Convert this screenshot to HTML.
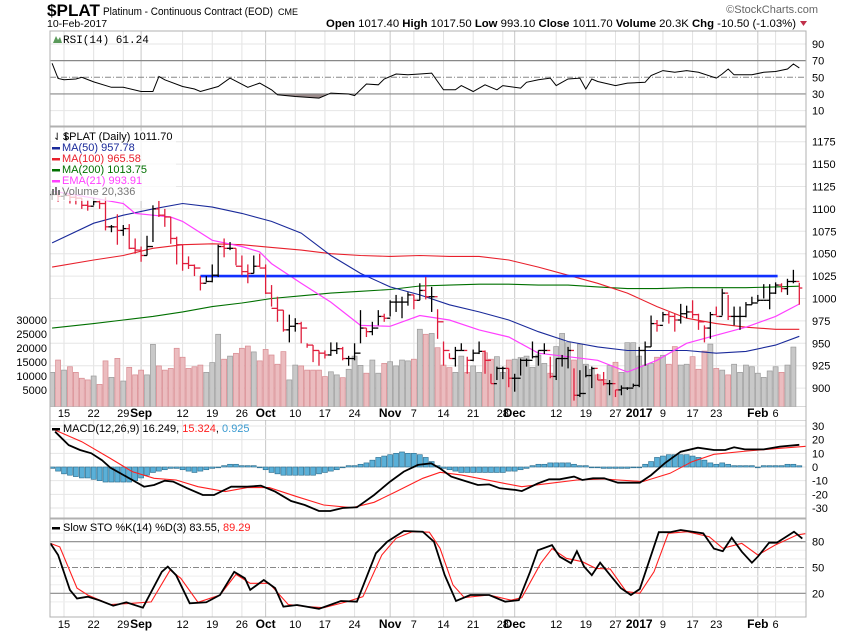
<!DOCTYPE html>
<html><head><meta charset="utf-8"><style>
body{margin:0;background:#fff;}
svg{display:block;font-family:"Liberation Sans",sans-serif;}
</style></head><body>
<svg id="chart" width="850" height="633" viewBox="0 0 850 633" xmlns="http://www.w3.org/2000/svg">
<rect width="850" height="633" fill="#fff"/>
<text x="47" y="16" font-size="17" font-weight="bold" textLength="53" lengthAdjust="spacingAndGlyphs">$PLAT</text>
<text x="103" y="15" font-size="11" textLength="170" lengthAdjust="spacingAndGlyphs">Platinum - Continuous Contract (EOD)</text>
<text x="278" y="15" font-size="9">CME</text>
<text x="47" y="27" font-size="10.5">10-Feb-2017</text>
<text x="818" y="13" font-size="11" fill="#666" text-anchor="end">©StockCharts.com</text>
<text x="796" y="27" font-size="11" text-anchor="end" textLength="470" lengthAdjust="spacingAndGlyphs"><tspan font-weight="bold">Open</tspan> 1017.40 <tspan font-weight="bold">High</tspan> 1017.50 <tspan font-weight="bold">Low</tspan> 993.10 <tspan font-weight="bold">Close</tspan> 1011.70 <tspan font-weight="bold">Volume</tspan> 20.3K <tspan font-weight="bold">Chg</tspan> -10.50 (-1.03%)</text>
<polygon points="800,21 807,21 803.5,26" fill="#c0304a"/>
<g id="layers"></g>
</svg>
<script>
// ---- data ----
const closes=[1116,1114,1115,1113,1112,1104,1103,1108,1106,1080,1080,1076,1078,1056,1054,1048,1058,1100,1093,1091,1067,1060,1039,1037,1034,1017,1019,1026,1058,1056,1056,1036,1030,1028,1036,1034,1006,989,987,965,969,972,967,948,942,939,937,942,944,933,933,939,967,963,967,980,978,996,996,996,1004,998,1009,1002,1002,974,942,933,942,942,931,939,941,931,905,922,922,911,911,931,931,935,942,942,913,933,933,942,892,894,914,922,909,905,905,898,900,900,903,942,946,972,970,982,980,976,983,985,982,974,967,982,980,1006,980,980,980,993,995,998,998,1006,1015,1011,1019,1019,1011.7];
const highs=[1120,1118,1118,1116,1115,1112,1110,1112,1110,1113,1082,1094,1082,1083,1067,1058,1070,1104,1109,1100,1091,1069,1060,1047,1038,1025,1025,1038,1060,1067,1063,1056,1048,1038,1048,1050,1038,1015,1002,987,982,978,974,950,948,942,942,951,951,946,936,950,987,967,974,987,983,998,1004,1002,1007,1004,1017,1024,1013,988,952,939,946,950,935,943,952,942,916,924,924,922,916,933,933,952,942,950,935,933,937,946,922,920,925,924,916,918,909,898,903,901,905,946,952,981,976,985,985,983,994,992,998,983,970,985,991,1011,1004,991,991,996,1002,1004,1016,1016,1018,1017,1022,1032,1017.5];
const lows=[1110,1108,1110,1106,1105,1100,1098,1104,1100,1076,1074,1060,1070,1055,1050,1041,1048,1063,1091,1080,1061,1038,1031,1033,1025,1009,1018,1018,1024,1046,1054,1037,1026,1017,1028,1035,1005,991,974,963,951,963,950,945,929,925,933,936,938,931,925,931,950,957,959,970,974,980,985,978,992,988,998,999,985,955,925,933,924,942,916,930,938,916,905,909,910,901,896,914,924,933,925,938,911,909,924,922,886,890,912,900,909,903,892,890,892,898,901,901,925,946,963,974,972,963,972,978,978,965,951,955,981,981,976,970,965,979,993,996,1000,988,1005,1007,1004,1017,993.1];
const volumes=[11300,15700,12100,13300,11300,9200,8600,10000,7000,15400,9500,16300,8200,13100,10400,12100,10400,21300,13600,12100,12700,19900,16700,12700,13300,13900,11300,14800,24900,16000,17100,18100,19900,20700,18600,15400,19500,17500,14200,18700,8600,13900,13600,12100,12100,12100,9800,11500,10400,9400,12400,17100,13800,11000,15700,11000,14500,15100,13600,15700,15400,16000,26700,24900,25200,20100,13900,13000,11300,17100,11300,13600,11300,18300,16000,16900,11300,15700,16000,16600,17100,13100,17500,14500,11000,20500,25200,21900,15700,21400,14200,12400,10400,8800,13700,14900,11300,21900,21900,17100,13900,14500,16700,17400,14200,20500,13900,14200,16900,12400,18900,21400,12700,12100,10400,14200,11300,13900,13300,11000,9500,11800,13300,11300,13900,20336];
const maIdx=[-2,5,10,15,20,25,30,35,40,45,50,55,60,65,70,75,80,85,90,95,100,105,110,115,120,124];
const ma50=[1062,1084,1093,1100,1106,1102,1095,1086,1073,1048,1028,1013,1004,993,985,976,963,952,946,942,942,942,939,941,948,957.78];
const ma100=[1035,1043,1048,1056,1060,1061,1060,1057,1054,1050,1048,1047,1048,1047,1047,1043,1035,1026,1017,1006,991,978,972,968,965.6,965.58];
const ma200=[967,972,976,980,985,991,995,1000,1003,1006,1008,1010,1014,1015,1016,1016,1015,1015,1013,1011,1011,1012,1012,1012,1013,1013.75];
const emaIdx=[-2,5,10,12,15,18,20,25,30,33,35,40,45,50,55,60,65,70,75,80,85,90,95,100,105,110,115,120,124];
const ema21=[1120,1112,1106,1095,1093,1091,1086,1065,1058,1052,1039,1017,996,970,969,981,976,965,957,939,935,931,918,931,950,959,968,980,993.91];
const resistance=1025, resStart=23, resEnd=120;
const rsiIdx=[-2,-1,0,2,3,5,8,10,13,15,16,17,20,22,23,26,28,31,33,35,36,39,43,45,48,49,51,53,54,56,58,60,62,63,64,66,67,69,71,73,74,77,78,80,82,83,85,87,88,89,90,93,95,98,99,101,103,105,107,110,111,112,113,116,118,120,122,123,124];
const rsiVals=[66.8,48.6,47,48,50,44.5,38,38,33,33,51,47,39,36,33,39,49,38,43,35,29,27,25,31,30,28,42,41,48,54,53,54,55,45,35,35,40,33,41,35,40,37,44,47,49,40,48,49,36,48,45,40,43,44,52,58,56,58,56,49,54,60,53,53,56,57,60,66,61.24];
const macdIdx=[-1.5,0.8,2.7,4.6,6.4,7.8,10.5,13.5,15.2,17,18.4,20.7,23.4,25.3,28.2,30.9,33.2,35.6,38.3,40.6,43,44.9,47,49.4,52.3,55,57.3,59.7,61.9,63.4,65.3,67.1,69.8,71.7,73.5,76.2,77.2,79.9,81.8,83.6,86,87.4,89.2,91.1,93.4,97.1,99,101.3,104,106.9,109.6,111.5,113,114.8,118,120.7,124];
const macdVals=[25.8,16,12.4,10,5,-0.5,-7,-14.4,-13.2,-10,-10.7,-15.4,-20.5,-20.5,-14.4,-14.4,-13.7,-18,-24.9,-27.8,-32.2,-32.2,-30,-29.5,-20.5,-10.7,-3.4,1.5,2.7,-1,-7,-9.5,-13.2,-12.7,-15.6,-16.8,-17.6,-12,-9,-9,-7,-9.5,-8.3,-8.3,-11.5,-11.5,-5.9,2.7,11.2,14.1,12.4,12.4,14.4,12.9,12.9,14.9,16.25];
const sigIdx=[-1.5,3,7.8,11.5,15.2,18.9,22.6,27.2,30.9,34.6,39.3,43.8,48.6,52.3,56,60.5,63.4,67.1,72.7,77.2,81.8,86.5,91.1,97.6,102.2,105.9,109.6,115.2,120.7,125.5];
const sigVals=[27,18.5,6.3,-3.4,-8.3,-9.5,-14.4,-18,-15.1,-15.1,-21.7,-27.8,-29.8,-25.8,-18,-8.3,-3.9,-5.9,-10.7,-14.4,-12,-9.5,-8.8,-10.7,-4.6,3.9,9.3,11.7,13.7,15.32];
const histVals=[-1,-3,-5,-6,-7,-8,-8,-9,-10,-11,-11,-11,-11,-11,-10,-8,-6,-4,-3,-2,-1,-1,-2,-3,-4,-3,-2,-1,0,1,2,2,1,1,1,0,-2,-4,-5,-6,-6,-6,-6,-6,-6,-5,-4,-3,-2,0,1,1,2,3,5,7,8,9,10,11,10,10,9,7,4,1,-1,-2,-3,-4,-4,-4,-4,-4,-4,-4,-4,-3,-3,-2,-1,1,2,2,3,3,3,3,2,1,1,0,0,-1,-1,-1,-1,-1,0,0,2,4,7,8,9,9,9,9,8,7,5,3,2,3,2,1,1,1,1,0,1,1,1,1,2,2,0.925];
const kIdx=[-2.3,-1,1,2.2,4,5.9,8.3,10.5,13.3,16.5,17.5,18.9,21.2,24,26.3,28.7,30.5,31.4,33.7,35.6,37,39.3,43,46.7,49.4,52.6,54.5,57.3,60.5,62.4,64.2,66.1,68.5,71.7,74.4,76.7,78.6,79.9,82.3,83.6,85.5,86.5,87.7,89,90.4,92.1,93.9,95.6,97.1,100.3,102.2,104,107.8,109.6,111.1,112.6,114.3,116,117,118.9,120.2,123.1,124.5];
const kVals=[78,64.5,24,14,16,12,5.6,9.5,3.3,45,51,41,8.4,9.5,18,45,37.4,24,35.5,26,4.4,6.4,2,11,10.2,66.5,80,92.4,91.6,80,41.3,11,18,18,10.2,12,45,70,76,62.6,55,69,51,41,55.6,41,26,18,25,91,91,93.6,89.8,72,69,84.7,68.4,55.6,62.6,78.8,78.8,91.6,83.55];
const dIdx=[-2.3,-0.7,2.2,4,7.8,11.5,14.7,17.9,19.7,22.6,26.3,29,31.4,34.6,37.8,41.1,43.8,47.6,50.4,53.6,56,58.7,61.6,63.4,65.6,67.5,71.7,75.4,77.2,80.4,82.3,84.7,87.4,89.7,92.1,94.8,97.1,99.5,101.9,105.1,108.8,111.1,114.3,117,119.9,123.6,125];
const dVals=[78,74,26,18,7,8.4,10,47,37.4,9.5,18,42,31.6,31.6,7,4.4,3.3,10,16,64.5,84,91.6,91,72.3,29.6,15,18,12,15,55,72,60.7,56.8,49,48.3,22,20,45,89.8,91.6,85.8,72.3,78,64.5,76,87.8,89.29];
const xLabels=["15","22","29","Sep","12","19","26","Oct","10","17","24","Nov","7","14","21","28","Dec","12","19","27","2017","9","17","23","Feb","6"];
const xLabelIdx=[0,5,10,13,20,25,30,34,39,44,49,55,59,64,69,74,76,83,88,93,97,101,106,110,117,120];
const xBold=["Sep","Oct","Nov","Dec","2017","Feb"];
const priceTicks=[900,925,950,975,1000,1025,1050,1075,1100,1125,1150,1175];
const volTicks=[5000,10000,15000,20000,25000,30000];
const rsiTicks=[90,70,50,30,10];
const macdTicks=[30,20,10,0,-10,-20,-30];
const stoTicks=[80,50,20];

// ---- scales ----
const L=50,R=806;
const X=i=>64+i*5.93;
const yP=p=>141.7+(1175-p)*0.896;
const yV=v=>404-v*0.0028;
const yR=v=>77.3-(v-50)*0.833;
const yM=v=>467-v*1.367;
const yS=v=>541.7-(v-80)*0.86;
const NS="http://www.w3.org/2000/svg";
const root=document.getElementById('layers');
function mk(tag,attrs,parent){const e=document.createElementNS(NS,tag);for(const k in attrs)e.setAttribute(k,attrs[k]);(parent||root).appendChild(e);return e;}
function pts(idx,vals,ys){return idx.map((i,k)=>X(i).toFixed(1)+','+ys(vals[k]).toFixed(1)).join(' ');}

const panels=[{n:'rsi',t:31,b:126},{n:'price',t:127,b:407},{n:'macd',t:420,b:518},{n:'sto',t:519,b:617}];
const defs=mk('defs',{});
panels.forEach(p=>{const c=mk('clipPath',{id:'clip-'+p.n},defs);mk('rect',{x:L,y:p.t,width:R-L,height:p.b-p.t},c);});

panels.forEach(p=>{
  const g=mk('g',{'clip-path':'url(#clip-'+p.n+')'});
  
  
  xLabelIdx.forEach((i,k)=>{mk('line',{x1:X(i),x2:X(i),y1:p.t,y2:p.b,stroke:xBold.includes(xLabels[k])?'#c8c8c8':'#e2e2e2','stroke-width':1},g);});
});
const hg=mk('g',{});


priceTicks.forEach(v=>mk('line',{x1:L,x2:R,y1:yP(v),y2:yP(v),stroke:'#e6e6e6'},hg));
[90,10].forEach(v=>mk('line',{x1:L,x2:R,y1:yR(v),y2:yR(v),stroke:'#e6e6e6'},hg));
[30,20,10,0,-10,-20,-30].forEach(v=>mk('line',{x1:L,x2:R,y1:yM(v),y2:yM(v),stroke:'#e6e6e6'},hg));
[90,70,60,40,30,10].forEach(v=>mk('line',{x1:L,x2:R,y1:yS(v),y2:yS(v),stroke:'#eeeeee'},hg));

// ---- RSI ----
const rg=mk('g',{'clip-path':'url(#clip-rsi)'});


const below=mk('clipPath',{id:'clip-below30'},defs);
mk('rect',{x:L,y:yR(30),width:R-L,height:50},below);
const fillPts=X(rsiIdx[0])+','+yR(30)+' '+pts(rsiIdx,rsiVals,yR)+' '+X(rsiIdx[rsiIdx.length-1])+','+yR(30);
const rf=mk('polygon',{points:fillPts,fill:'#9c8c8c','clip-path':'url(#clip-below30)'},rg);


mk('line',{x1:L,x2:R,y1:yR(70),y2:yR(70),stroke:'#888','stroke-width':1.2},rg);
mk('line',{x1:L,x2:R,y1:yR(30),y2:yR(30),stroke:'#888','stroke-width':1.2},rg);
mk('line',{x1:L,x2:R,y1:yR(50),y2:yR(50),stroke:'#888','stroke-dasharray':'6,2,1,2'},rg);
const rl=mk('polyline',{points:pts(rsiIdx,rsiVals,yR),fill:'none',stroke:'#000','stroke-width':1},rg);



// ---- Price panel ----
const pg=mk('g',{'clip-path':'url(#clip-price)'});


volumes.forEach((v,k)=>{const i=k-2;const up=k===0||closes[k]>=closes[k-1];
  const b=mk('rect',{x:X(i)-2.5,y:yV(v),width:5,height:407-yV(v),fill:up?'#c8c8c8':'#ebbcbf',stroke:up?'#9a9a9a':'#d88a90','stroke-width':0.7},pg);
  
  });
function line(idx,vals,col,w,name){const e=mk('polyline',{points:pts(idx,vals,yP),fill:'none',stroke:col,'stroke-width':w},pg);
  
  }
line(maIdx,ma200,'#007000',1.1,'ma200-line');
line(maIdx,ma100,'#e8202c',1.1,'ma100-line');
line(maIdx,ma50,'#1a2a9a',1.1,'ma50-line');
line(emaIdx,ema21,'#ff40ff',1.2,'ema21-line');
const rs=mk('line',{x1:X(resStart),x2:X(resEnd)+2,y1:yP(resistance),y2:yP(resistance),stroke:'#1030ff','stroke-width':2.6},pg);


closes.forEach((c,k)=>{const i=k-2;const o=k>0?closes[k-1]:c;const up=k===0||c>=closes[k-1];const col=up?'#000':'#e01e3c';const x=X(i);
  const g=mk('g',{stroke:col,'stroke-width':1.3},pg);
  
  
  mk('line',{x1:x,x2:x,y1:yP(highs[k]),y2:yP(lows[k])},g);
  mk('line',{x1:x-3,x2:x,y1:yP(o),y2:yP(o)},g);
  mk('line',{x1:x,x2:x+3,y1:yP(c),y2:yP(c)},g);});

// ---- MACD ----
const mg=mk('g',{'clip-path':'url(#clip-macd)'});


histVals.forEach((v,k)=>{const i=k-2;const y0=yM(0),y1=yM(v);
  const b=mk('rect',{x:X(i)-2.5,y:Math.min(y0,y1),width:5,height:Math.max(0.8,Math.abs(y1-y0)),fill:'#5ab0d8',stroke:'#2a6a8a','stroke-width':0.6},mg);
  
  });
const sl=mk('polyline',{points:pts(sigIdx,sigVals,yM),fill:'none',stroke:'#ff2020','stroke-width':1.1},mg);


const ml=mk('polyline',{points:pts(macdIdx,macdVals,yM),fill:'none',stroke:'#000','stroke-width':1.8},mg);



// ---- Stochastics ----
const sg=mk('g',{'clip-path':'url(#clip-sto)'});


mk('line',{x1:L,x2:R,y1:yS(80),y2:yS(80),stroke:'#888','stroke-width':1.2},sg);
mk('line',{x1:L,x2:R,y1:yS(20),y2:yS(20),stroke:'#888','stroke-width':1.2},sg);
mk('line',{x1:L,x2:R,y1:yS(50),y2:yS(50),stroke:'#888','stroke-dasharray':'6,2,1,2'},sg);
const dl=mk('polyline',{points:pts(dIdx,dVals,yS),fill:'none',stroke:'#ff2020','stroke-width':1.1},sg);


const kl=mk('polyline',{points:pts(kIdx,kVals,yS),fill:'none',stroke:'#000','stroke-width':1.8},sg);



panels.forEach(p=>{const f=mk('rect',{x:L,y:p.t,width:R-L,height:p.b-p.t,fill:'none',stroke:'#b0b0b0'});
  
  });
mk('rect',{x:L,y:407,width:R-L,height:13,fill:'#fff'});
mk('line',{x1:L,x2:L,y1:407,y2:420,stroke:'#b0b0b0'});
mk('line',{x1:R,x2:R,y1:407,y2:420,stroke:'#b0b0b0'});

// ---- axes labels ----
function txt(x,y,s,opt){const t=mk('text',Object.assign({x:x,y:y,'font-size':11},opt||{}));t.textContent=s;return t;}
[417,628].forEach(yy=>{xLabels.forEach((s,k)=>{const b=xBold.includes(s);const t=txt(X(xLabelIdx[k]),yy,s,{'text-anchor':'middle','font-weight':b?'bold':'normal','font-size':b?12:11});
  
  });});
priceTicks.forEach(v=>{const t=txt(812,yP(v)+4,String(v));
  
  });
volTicks.forEach(v=>{const t=txt(47,yV(v)+4,String(v),{'text-anchor':'end'});
  
  });
rsiTicks.forEach(v=>{const t=txt(812,yR(v)+4,String(v));
  
  });
macdTicks.forEach(v=>{const t=txt(812,yM(v)+4,String(v));
  
  });
stoTicks.forEach(v=>{const t=txt(812,yS(v)+4,String(v));
  
  });

// ---- legends ----
const lg=mk('g',{'font-size':11});


mk('polygon',{points:'53,43 56,36 58,40 60,37 62,43',fill:'#5a9a5a'},lg);
txt(63,43,'RSI(14) 61.24',{'font-family':'Liberation Mono, monospace'});
mk('rect',{x:51,y:131,width:125,height:70,fill:'#fff','fill-opacity':0.75},lg);
txt(63,140,'$PLAT (Daily) 1011.70');
txt(53,140,'⇃⇂',{'font-size':10});
const leg=[['MA(50) 957.78','#1a2a9a'],['MA(100) 965.58','#e8202c'],['MA(200) 1013.75','#007000'],['EMA(21) 993.91','#ff40ff'],['Volume 20,336','#777']];
leg.forEach((l,k)=>{const y=151+k*11;
  if(k<4)mk('rect',{x:52,y:y-4,width:8,height:2.5,fill:l[1]},lg);else{mk('rect',{x:52,y:y-6,width:2,height:6,fill:'#777'},lg);mk('rect',{x:55,y:y-8,width:2,height:8,fill:'#777'},lg);mk('rect',{x:58,y:y-5,width:2,height:5,fill:'#777'},lg);}
  const t=txt(62,y,l[0],{fill:l[1]});
  
  });
mk('rect',{x:52,y:428,width:8,height:2.5,fill:'#000'},lg);
const mt=txt(63,432,'');

mt.innerHTML='<tspan>MACD(12,26,9) 16.249, </tspan><tspan fill="#ff2020">15.324</tspan><tspan>, </tspan><tspan fill="#3a9ad0">0.925</tspan>';
mk('rect',{x:52,y:527,width:8,height:2.5,fill:'#000'},lg);
const st=txt(63,531,'');

st.innerHTML='<tspan>Slow STO %K(14) %D(3) 83.55, </tspan><tspan fill="#ff2020">89.29</tspan>';
</script>
</body></html>
